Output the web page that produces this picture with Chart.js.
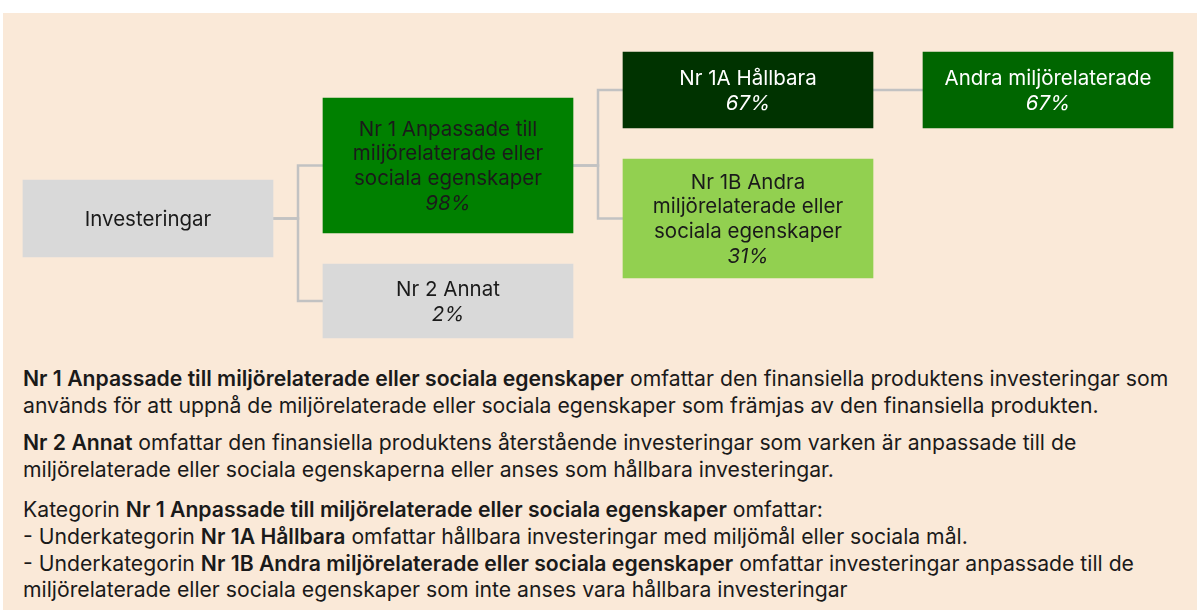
<!DOCTYPE html>
<html lang="sv">
<head>
<meta charset="utf-8">
<title>Investeringar</title>
<script src="https://cdn.jsdelivr.net/npm/chart.js@4.4.1/dist/chart.umd.min.js"></script>
<style>
  html, body { margin: 0; padding: 0; background: #fff; }
  body { width: 1202px; height: 610px; position: relative; overflow: hidden;
         font-family: Inter, "Noto Sans", sans-serif; color: #1a1a1a; }
  #panel { position: absolute; left: 3px; top: 13px; width: 1194px; height: 597px; background: #fae9d8; }
  #chartBox { position: absolute; left: 0; top: 0; width: 1202px; height: 350px; }
  #notes { position: absolute; left: 23px; top: 365px; font-size: 21.2px; line-height: 26.7px; white-space: nowrap; }
  #notes p { margin: 0; }
  #notes p.p1 { margin-bottom: 10.5px; }
  #notes p.p2 { margin-bottom: 14px; }
  #notes b { font-weight: 600; }
</style>
</head>
<body>
<div id="panel"></div>
<div id="chartBox"><canvas id="tree"></canvas></div>
<div id="notes">
  <p class="p1"><b>Nr 1 Anpassade till miljörelaterade eller sociala egenskaper</b> omfattar den finansiella produktens investeringar som<br>används för att uppnå de miljörelaterade eller sociala egenskaper som främjas av den finansiella produkten.</p>
  <p class="p2"><b>Nr 2 Annat</b> omfattar den finansiella produktens återstående investeringar som varken är anpassade till de<br>miljörelaterade eller sociala egenskaperna eller anses som hållbara investeringar.</p>
  <p>Kategorin <b>Nr 1 Anpassade till miljörelaterade eller sociala egenskaper</b> omfattar:<br>- Underkategorin <b>Nr 1A Hållbara</b> omfattar hållbara investeringar med miljömål eller sociala mål.<br>- Underkategorin <b>Nr 1B Andra miljörelaterade eller sociala egenskaper</b> omfattar investeringar anpassade till de<br>miljörelaterade eller sociala egenskaper som inte anses vara hållbara investeringar</p>
</div>
<script>
// ---------- data ----------
const nodeNames = [
  ["Investeringar"],
  ["Nr 1 Anpassade till", "miljörelaterade eller", "sociala egenskaper"],
  ["Nr 2 Annat"],
  ["Nr 1A Hållbara"],
  ["Nr 1B Andra", "miljörelaterade eller", "sociala egenskaper"],
  ["Andra miljörelaterade"]
];
const nodeShares = [null, 98, 2, 67, 31, 67];
const nodeParents = [-1, 0, 0, 1, 1, 3];

// ---------- layout / style ----------
const COL_LEFT = 23, COL_STEP = 300, BOX_W = 250;
const boxCenterY = [218.5, 165.5, 301, 90, 218.5, 90];
const boxHeight = [77, 135, 74, 76, 119, 76];
const boxColors = ["#d9d9d9", "#008000", "#d9d9d9", "#003300", "#92d050", "#006600"];
const textColors = ["#1a1a1a", "#1a1a1a", "#1a1a1a", "#ffffff", "#1a1a1a", "#ffffff"];
const LINK_COLOR = "#c2c2c2";
const LINE_H = 24.7;
const BOX_FONT = "20.5px Inter, 'Noto Sans', sans-serif";

// depth in the tree gives the column
const depth = nodeParents.map((p, i) => {
  let d = 0, k = i;
  while (nodeParents[k] >= 0) { d++; k = nodeParents[k]; }
  return d;
});
const boxLeft = i => COL_LEFT + depth[i] * COL_STEP;

const linkDatasets = [];
nodeParents.forEach((p, i) => {
  if (p < 0) return;
  const x0 = boxLeft(p) + BOX_W;
  const x1 = boxLeft(i);
  const xm = (x0 + x1) / 2;
  linkDatasets.push({
    type: "line",
    label: "link " + i,
    data: [
      { x: x0, y: boxCenterY[p] },
      { x: xm, y: boxCenterY[p] },
      { x: xm, y: boxCenterY[i] },
      { x: x1, y: boxCenterY[i] }
    ],
    borderColor: LINK_COLOR,
    borderWidth: 2.5,
    pointRadius: 0,
    fill: false,
    tension: 0,
    order: 2
  });
});

const boxDatasets = nodeNames.map((lines, i) => ({
  type: "bar",
  label: lines.join(" "),
  indexAxis: "y",
  data: [{ x: [boxLeft(i), boxLeft(i) + BOX_W], y: boxCenterY[i] }],
  backgroundColor: boxColors[i],
  barThickness: boxHeight[i],
  grouped: false,
  order: 1
}));

// text inside the boxes
const boxLabels = {
  id: "boxLabels",
  afterDatasetsDraw(chart) {
    const ctx = chart.ctx;
    ctx.save();
    ctx.textAlign = "center";
    ctx.textBaseline = "middle";
    boxDatasets.forEach((ds, i) => {
      const bar = chart.getDatasetMeta(linkDatasets.length + i).data[0];
      const cx = (bar.x + bar.base) / 2;
      const lines = nodeNames[i].map(t => ({ text: t, italic: false }));
      if (nodeShares[i] !== null) lines.push({ text: nodeShares[i] + "%", italic: true });
      let y = bar.y - (lines.length - 1) * LINE_H / 2;
      ctx.fillStyle = textColors[i];
      lines.forEach(l => {
        ctx.font = (l.italic ? "italic " : "") + BOX_FONT;
        ctx.fillText(l.text, cx, y + 1);
        y += LINE_H;
      });
    });
    ctx.restore();
  }
};

new Chart(document.getElementById("tree"), {
  data: { datasets: linkDatasets.concat(boxDatasets) },
  options: {
    responsive: true,
    maintainAspectRatio: false,
    animation: false,
    layout: { padding: 0 },
    plugins: { legend: { display: false }, tooltip: { enabled: false } },
    scales: {
      x: { type: "linear", min: 0, max: 1202, offset: false, display: false },
      y: { type: "linear", min: 0, max: 350, reverse: true, offset: false, display: false }
    }
  },
  plugins: [boxLabels]
});
</script>
</body>
</html>
